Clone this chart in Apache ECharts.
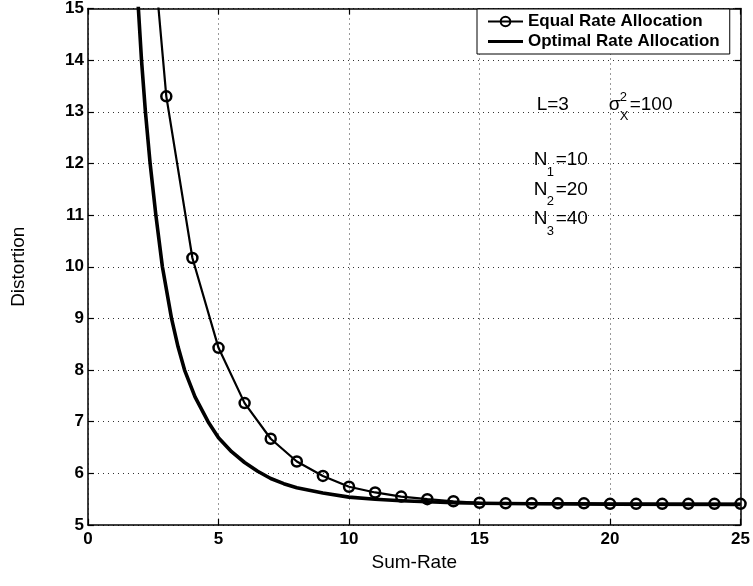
<!DOCTYPE html>
<html><head><meta charset="utf-8">
<script src="https://cdn.jsdelivr.net/npm/echarts@6/dist/echarts.min.js"></script>
<style>html,body{margin:0;padding:0;background:#fff}#c{width:753px;height:586px}</style>
</head><body><div id="c"></div>
<script>
// ---- data ----
const equalX = [2, 3, 4, 5, 6, 7, 8, 9, 10, 11, 12, 13, 14, 15, 16, 17, 18, 19, 20, 21, 22, 23, 24, 25];
const equalY = [19.0, 13.3, 10.17, 8.43, 7.36, 6.67, 6.23, 5.95, 5.74, 5.63, 5.55, 5.50, 5.46, 5.43, 5.42, 5.42, 5.42, 5.42, 5.41, 5.41, 5.41, 5.41, 5.41, 5.41];
const optX = [1.8, 1.93, 2.05, 2.2, 2.38, 2.6, 2.85, 3.2, 3.45, 3.7, 4.1, 4.6, 5, 5.5, 6, 6.5, 7, 7.5, 8, 9, 10, 11, 12, 13, 14, 15, 17, 20, 25];
const optY = [16.2, 15.0, 14.0, 13.0, 12.0, 11.0, 10.0, 9.0, 8.45, 8.0, 7.48, 7.0, 6.69, 6.42, 6.21, 6.04, 5.90, 5.80, 5.72, 5.62, 5.54, 5.50, 5.47, 5.45, 5.43, 5.42, 5.41, 5.405, 5.40];
const xTickLabels = [0, 5, 10, 15, 20, 25];
const yTickLabels = [5, 6, 7, 8, 9, 10, 11, 12, 13, 14, 15];
const seriesNames = ['Equal Rate Allocation', 'Optimal Rate Allocation'];

const FF = '"Liberation Sans", Arial, Helvetica, sans-serif';
const axisLineStyle = {color: '#000', width: 1.5};
const tickStyle = {inside: true, length: 6, lineStyle: {color: '#000', width: 1.2}};
const gridLine = {show: true, lineStyle: {color: '#333', width: 1, type: [1, 4]}};

const xMin = xTickLabels[0], xMax = xTickLabels[xTickLabels.length - 1];
const yMin = yTickLabels[0], yMax = yTickLabels[yTickLabels.length - 1];

const option = {
  animation: false,
  backgroundColor: '#fff',
  grid: {left: 88, right: 12, top: 5, bottom: 61, show: false},
  legend: {
    data: [
      {name: seriesNames[0]},
      {name: seriesNames[1], icon: 'path://M0,0H100V9H0Z'}
    ],
    orient: 'vertical',
    left: 477, top: 9,
    backgroundColor: '#fff',
    borderColor: '#000', borderWidth: 1,
    padding: [4, 10, 4, 10],
    itemGap: 3,
    itemWidth: 35, itemHeight: 12,
    textStyle: {fontFamily: FF, fontSize: 17, fontWeight: 'bold', color: '#000'}
  },
  xAxis: [{
    type: 'value', min: xMin, max: xMax, interval: 5, position: 'bottom',
    axisLine: {show: true, onZero: false, lineStyle: axisLineStyle},
    axisTick: tickStyle,
    axisLabel: {color: '#000', fontFamily: FF, fontSize: 17, fontWeight: 'bold', margin: 6},
    splitLine: gridLine,
    name: 'Sum-Rate', nameLocation: 'middle', nameGap: 27,
    nameTextStyle: {fontFamily: FF, fontSize: 19, color: '#000'}
  }, {
    type: 'value', min: xMin, max: xMax, interval: 5, position: 'top',
    axisLine: {show: true, onZero: false, lineStyle: axisLineStyle},
    axisTick: tickStyle, axisLabel: {show: false}, splitLine: {show: false}
  }],
  yAxis: [{
    type: 'value', min: yMin, max: yMax, interval: 1, position: 'left',
    axisLine: {show: true, onZero: false, lineStyle: axisLineStyle},
    axisTick: tickStyle,
    axisLabel: {color: '#000', fontFamily: FF, fontSize: 17, fontWeight: 'bold', margin: 4},
    splitLine: gridLine,
    name: 'Distortion', nameLocation: 'middle', nameGap: 60, nameRotate: 90,
    nameTextStyle: {fontFamily: FF, fontSize: 19, color: '#000'}
  }, {
    type: 'value', min: yMin, max: yMax, interval: 1, position: 'right',
    axisLine: {show: true, onZero: false, lineStyle: axisLineStyle},
    axisTick: tickStyle, axisLabel: {show: false}, splitLine: {show: false}
  }],
  series: [{
    name: seriesNames[0], type: 'line',
    data: equalX.map((x, i) => [x, equalY[i]]),
    symbol: 'circle', symbolSize: 10, showAllSymbol: true,
    lineStyle: {color: '#000', width: 2.2},
    itemStyle: {color: 'rgba(255,255,255,0)', borderColor: '#000', borderWidth: 2.5},
    z: 4
  }, {
    name: seriesNames[1], type: 'line',
    data: optX.map((x, i) => [x, optY[i]]),
    symbol: 'none', smooth: false,
    lineStyle: {color: '#000', width: 3.6, join: 'round'},
    itemStyle: {color: '#000'},
    z: 3
  }]
};

const chart = echarts.init(document.getElementById('c'));
chart.setOption(option);

// annotation texts, anchored in data coordinates
const anchor = chart.convertToPixel({xAxisIndex: 0, yAxisIndex: 0}, [17.19, 13.0]);
const ax = anchor[0], ay = anchor[1];
function t(text, dx, dy, size) {
  return {type: 'text', x: ax + dx, y: ay + dy, z: 10,
    style: {text: text, fontFamily: FF, fontSize: size, fill: '#000', verticalAlign: 'middle', align: 'left'}};
}
const els = [
  t('L=3', 0, -6.7, 19),
  t('σ', 72, -6.7, 19),
  t('2', 83, -14, 13),
  t('X', 83, 4.5, 13),
  t('=100', 93, -6.7, 19)
];
const nLines = [['1', '=10'], ['2', '=20'], ['3', '=40']];
nLines.forEach((p, i) => {
  const by = 55 + i * 29.5;
  els.push(t('N', -3, by - 6.7, 19));
  els.push(t(p[0], 10, by + 5.5, 13));
  els.push(t(p[1], 19, by - 6.7, 19));
});
chart.setOption({graphic: {elements: els}});
</script>
</body></html>
